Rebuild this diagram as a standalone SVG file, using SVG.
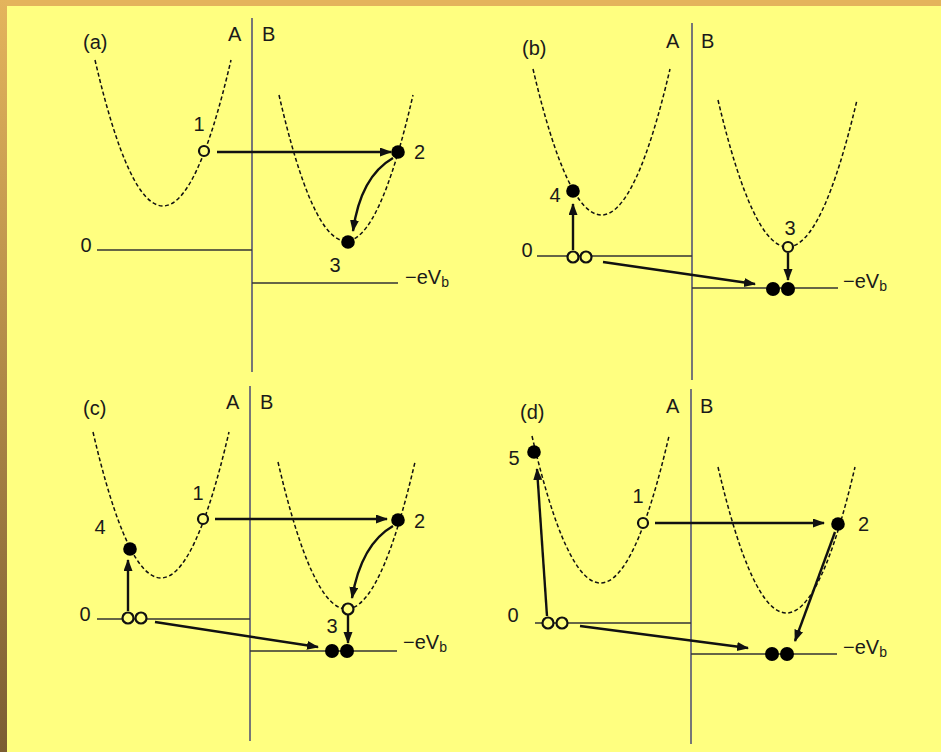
<svg xmlns="http://www.w3.org/2000/svg" width="941" height="752" viewBox="0 0 941 752">
<defs>
<linearGradient id="lb" x1="0" y1="0" x2="0" y2="1">
<stop offset="0" stop-color="#E4B45C"/>
<stop offset="1" stop-color="#7B5D33"/>
</linearGradient>
<marker id="ah" markerUnits="userSpaceOnUse" markerWidth="12" markerHeight="10" refX="11" refY="4.5" orient="auto">
<path d="M0,0 L12,4.5 L0,9 z" fill="#111"/>
</marker>
<style>
text{font-family:"Liberation Sans",Arial,sans-serif;font-size:20px;fill:#1a1a1a}
.well{fill:none;stroke:#111;stroke-width:1.5;stroke-dasharray:4 2.5}
.iface{stroke:#777;stroke-width:2}
.lvl{stroke:#333;stroke-width:1.4}
.arr{fill:none;stroke:#111;stroke-width:2.4;marker-end:url(#ah)}
.open{fill:#FFFF80;stroke:#111;stroke-width:2.2}
.full{fill:#000}
.sub{font-size:14px}
</style>
</defs>
<rect width="941" height="752" fill="#FFFF80"/>
<rect x="0" y="0" width="941" height="6" fill="#E4B45C"/>
<rect x="0" y="0" width="7" height="752" fill="url(#lb)"/>

<!-- Panel (a) -->
<g id="panel-a">
<text x="83" y="49">(a)</text>
<text x="228" y="41">A</text>
<text x="262" y="41">B</text>
<line class="iface" x1="252" y1="18" x2="252" y2="372"/>
<path class="well" d="M95,60 Q163,352 231,60"/>
<path class="well" d="M279,95 Q346,387 413,95"/>
<line class="lvl" x1="97" y1="250" x2="252" y2="250"/>
<text x="86" y="252" text-anchor="middle">0</text>
<line class="lvl" x1="252" y1="283" x2="398" y2="283"/>
<text x="405" y="284">−eV<tspan class="sub" dy="3">b</tspan></text>
<g id="a-connectors">
<path class="arr" d="M217,152 H391"/>
<path class="arr" d="M393,158 C372,170 358,195 353,231"/>
</g>
<g id="a-state1"><circle class="open" cx="204" cy="151" r="5"/><text x="199" y="131" text-anchor="middle">1</text></g>
<g id="a-state2"><circle class="full" cx="398" cy="152" r="6.8"/><text x="414" y="159">2</text></g>
<g id="a-state3"><circle class="full" cx="348" cy="242" r="6.8"/><text x="335" y="272" text-anchor="middle">3</text></g>
</g>

<!-- Panel (b) -->
<g id="panel-b">
<text x="522" y="55">(b)</text>
<text x="666" y="48">A</text>
<text x="701" y="48">B</text>
<line class="iface" x1="692" y1="23" x2="692" y2="380"/>
<path class="well" d="M533,69 Q601.5,361 670,69"/>
<path class="well" d="M718,100 Q787.5,394 857,100"/>
<line class="lvl" x1="537" y1="256" x2="692" y2="256"/>
<text x="527" y="257" text-anchor="middle">0</text>
<line class="lvl" x1="692" y1="288" x2="838" y2="288"/>
<text x="843" y="288">−eV<tspan class="sub" dy="3">b</tspan></text>
<g id="b-connectors">
<path class="arr" d="M573,250 V204"/>
<path class="arr" d="M603,262 L755,284"/>
<path class="arr" d="M788,253 V280"/>
</g>
<g id="b-state4"><circle class="full" cx="573" cy="191" r="6.8"/><text x="555" y="202" text-anchor="middle">4</text></g>
<g id="b-state0"><circle class="open" cx="573" cy="257" r="5.5"/><circle class="open" cx="586" cy="257" r="5.5"/></g>
<g id="b-state3"><circle class="open" cx="788" cy="247" r="5"/><text x="790" y="235" text-anchor="middle">3</text></g>
<g id="b-final"><circle class="full" cx="773" cy="289" r="7"/><circle class="full" cx="788" cy="289" r="7"/></g>
</g>

<!-- Panel (c) -->
<g id="panel-c">
<text x="83" y="415">(c)</text>
<text x="226" y="409">A</text>
<text x="260" y="409">B</text>
<line class="iface" x1="250" y1="386" x2="250" y2="741"/>
<path class="well" d="M93,432 Q161,724 229,432"/>
<path class="well" d="M278,462 Q346.5,756 415,462"/>
<line class="lvl" x1="97" y1="619" x2="250" y2="619"/>
<text x="85" y="621" text-anchor="middle">0</text>
<line class="lvl" x1="250" y1="651" x2="397" y2="651"/>
<text x="403" y="649">−eV<tspan class="sub" dy="3">b</tspan></text>
<g id="c-connectors">
<path class="arr" d="M215,519 H387"/>
<path class="arr" d="M393,526 C372,538 358,563 352,598"/>
<path class="arr" d="M128,611 V560"/>
<path class="arr" d="M155,622 L318,647"/>
<path class="arr" d="M348,615 V643"/>
</g>
<g id="c-state1"><circle class="open" cx="203" cy="519" r="5"/><text x="198" y="500" text-anchor="middle">1</text></g>
<g id="c-state2"><circle class="full" cx="398" cy="520" r="6.8"/><text x="414" y="528">2</text></g>
<g id="c-state4"><circle class="full" cx="130" cy="549" r="6.8"/><text x="100" y="534" text-anchor="middle">4</text></g>
<g id="c-state0"><circle class="open" cx="128" cy="618" r="5.5"/><circle class="open" cx="141" cy="618" r="5.5"/></g>
<g id="c-state3"><circle class="open" cx="348" cy="609" r="5.5"/><text x="332" y="633" text-anchor="middle">3</text></g>
<g id="c-final"><circle class="full" cx="332" cy="651" r="7"/><circle class="full" cx="347" cy="651" r="7"/></g>
</g>

<!-- Panel (d) -->
<g id="panel-d">
<text x="520" y="419">(d)</text>
<text x="666" y="413">A</text>
<text x="700" y="413">B</text>
<line class="iface" x1="691" y1="389" x2="691" y2="744"/>
<path class="well" d="M532,436 Q600.5,730 669,436"/>
<path class="well" d="M718,467 Q786.5,759 855,467"/>
<line class="lvl" x1="535" y1="623" x2="691" y2="623"/>
<text x="513" y="622" text-anchor="middle">0</text>
<line class="lvl" x1="691" y1="654" x2="837" y2="654"/>
<text x="843" y="654">−eV<tspan class="sub" dy="3">b</tspan></text>
<g id="d-connectors">
<path class="arr" d="M547,616 L537,469"/>
<path class="arr" d="M655,523 H824"/>
<path class="arr" d="M835,532 L795,641"/>
<path class="arr" d="M580,626 L748,648"/>
</g>
<g id="d-state5"><circle class="full" cx="534" cy="452" r="6.8"/><text x="514" y="465" text-anchor="middle">5</text></g>
<g id="d-state1"><circle class="open" cx="643" cy="523" r="5"/><text x="638" y="503" text-anchor="middle">1</text></g>
<g id="d-state2"><circle class="full" cx="838" cy="524" r="6.8"/><text x="858" y="531">2</text></g>
<g id="d-state0"><circle class="open" cx="548" cy="623" r="5.5"/><circle class="open" cx="562" cy="623" r="5.5"/></g>
<g id="d-final"><circle class="full" cx="772" cy="654" r="7"/><circle class="full" cx="787" cy="654" r="7"/></g>
</g>
</svg>
